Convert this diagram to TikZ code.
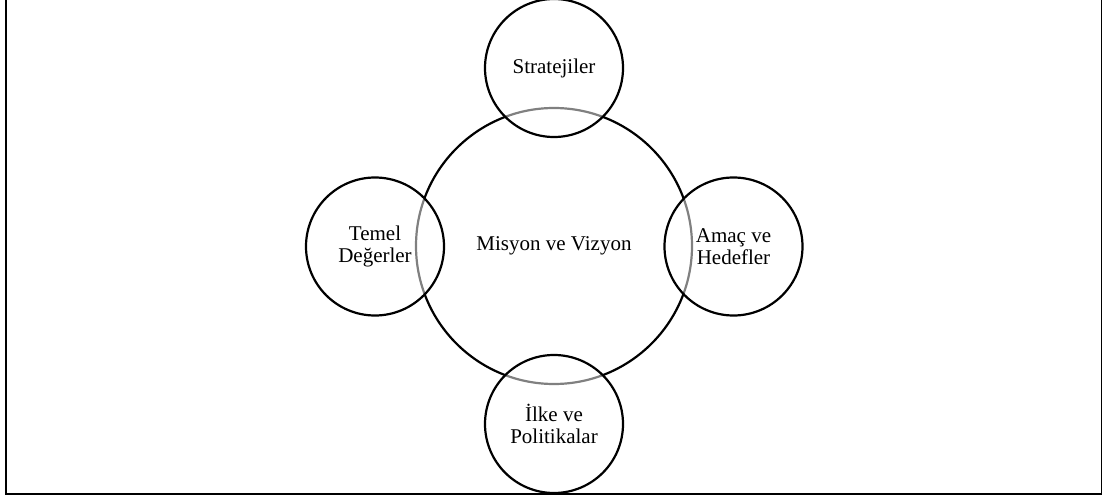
\documentclass[tikz,border=0pt]{standalone}
\usepackage{fontspec}
\setmainfont{Liberation Serif}
\usetikzlibrary{positioning}

\begin{document}
\begin{tikzpicture}[x=1pt, y=-1pt,
    every node/.style={circle, draw, line width=2.2pt, align=center, font=\fontsize{21}{22}\selectfont},
    center/.style={minimum size=276pt, inner sep=0pt},
    part/.style={minimum size=138pt, inner sep=0pt, fill=white, fill opacity=0.5, text opacity=1}]
        \useasboundingbox (0,0) rectangle (1103,500);
        %---------------- Frame ----------------%
        \draw[line width=1.6pt] (6,0) -- (6,494) -- (1101.5,494) -- (1101.5,0);

        %---------------- Center ----------------%
        \node[center] (MV) at (554,246) {Misyon ve Vizyon};

        %---------------- Surrounding circles ----------------%
        \node[part] (S) at (554,68) {Stratejiler};
        \node[part] (T) at (375,246.5) {Temel\\Değerler};
        \node[part] (A) at (733.5,246.5) {Amaç ve\\Hedefler};
        \node[part] (I) at (554,424) {İlke ve\\Politikalar};
    \end{tikzpicture}
\end{document}
